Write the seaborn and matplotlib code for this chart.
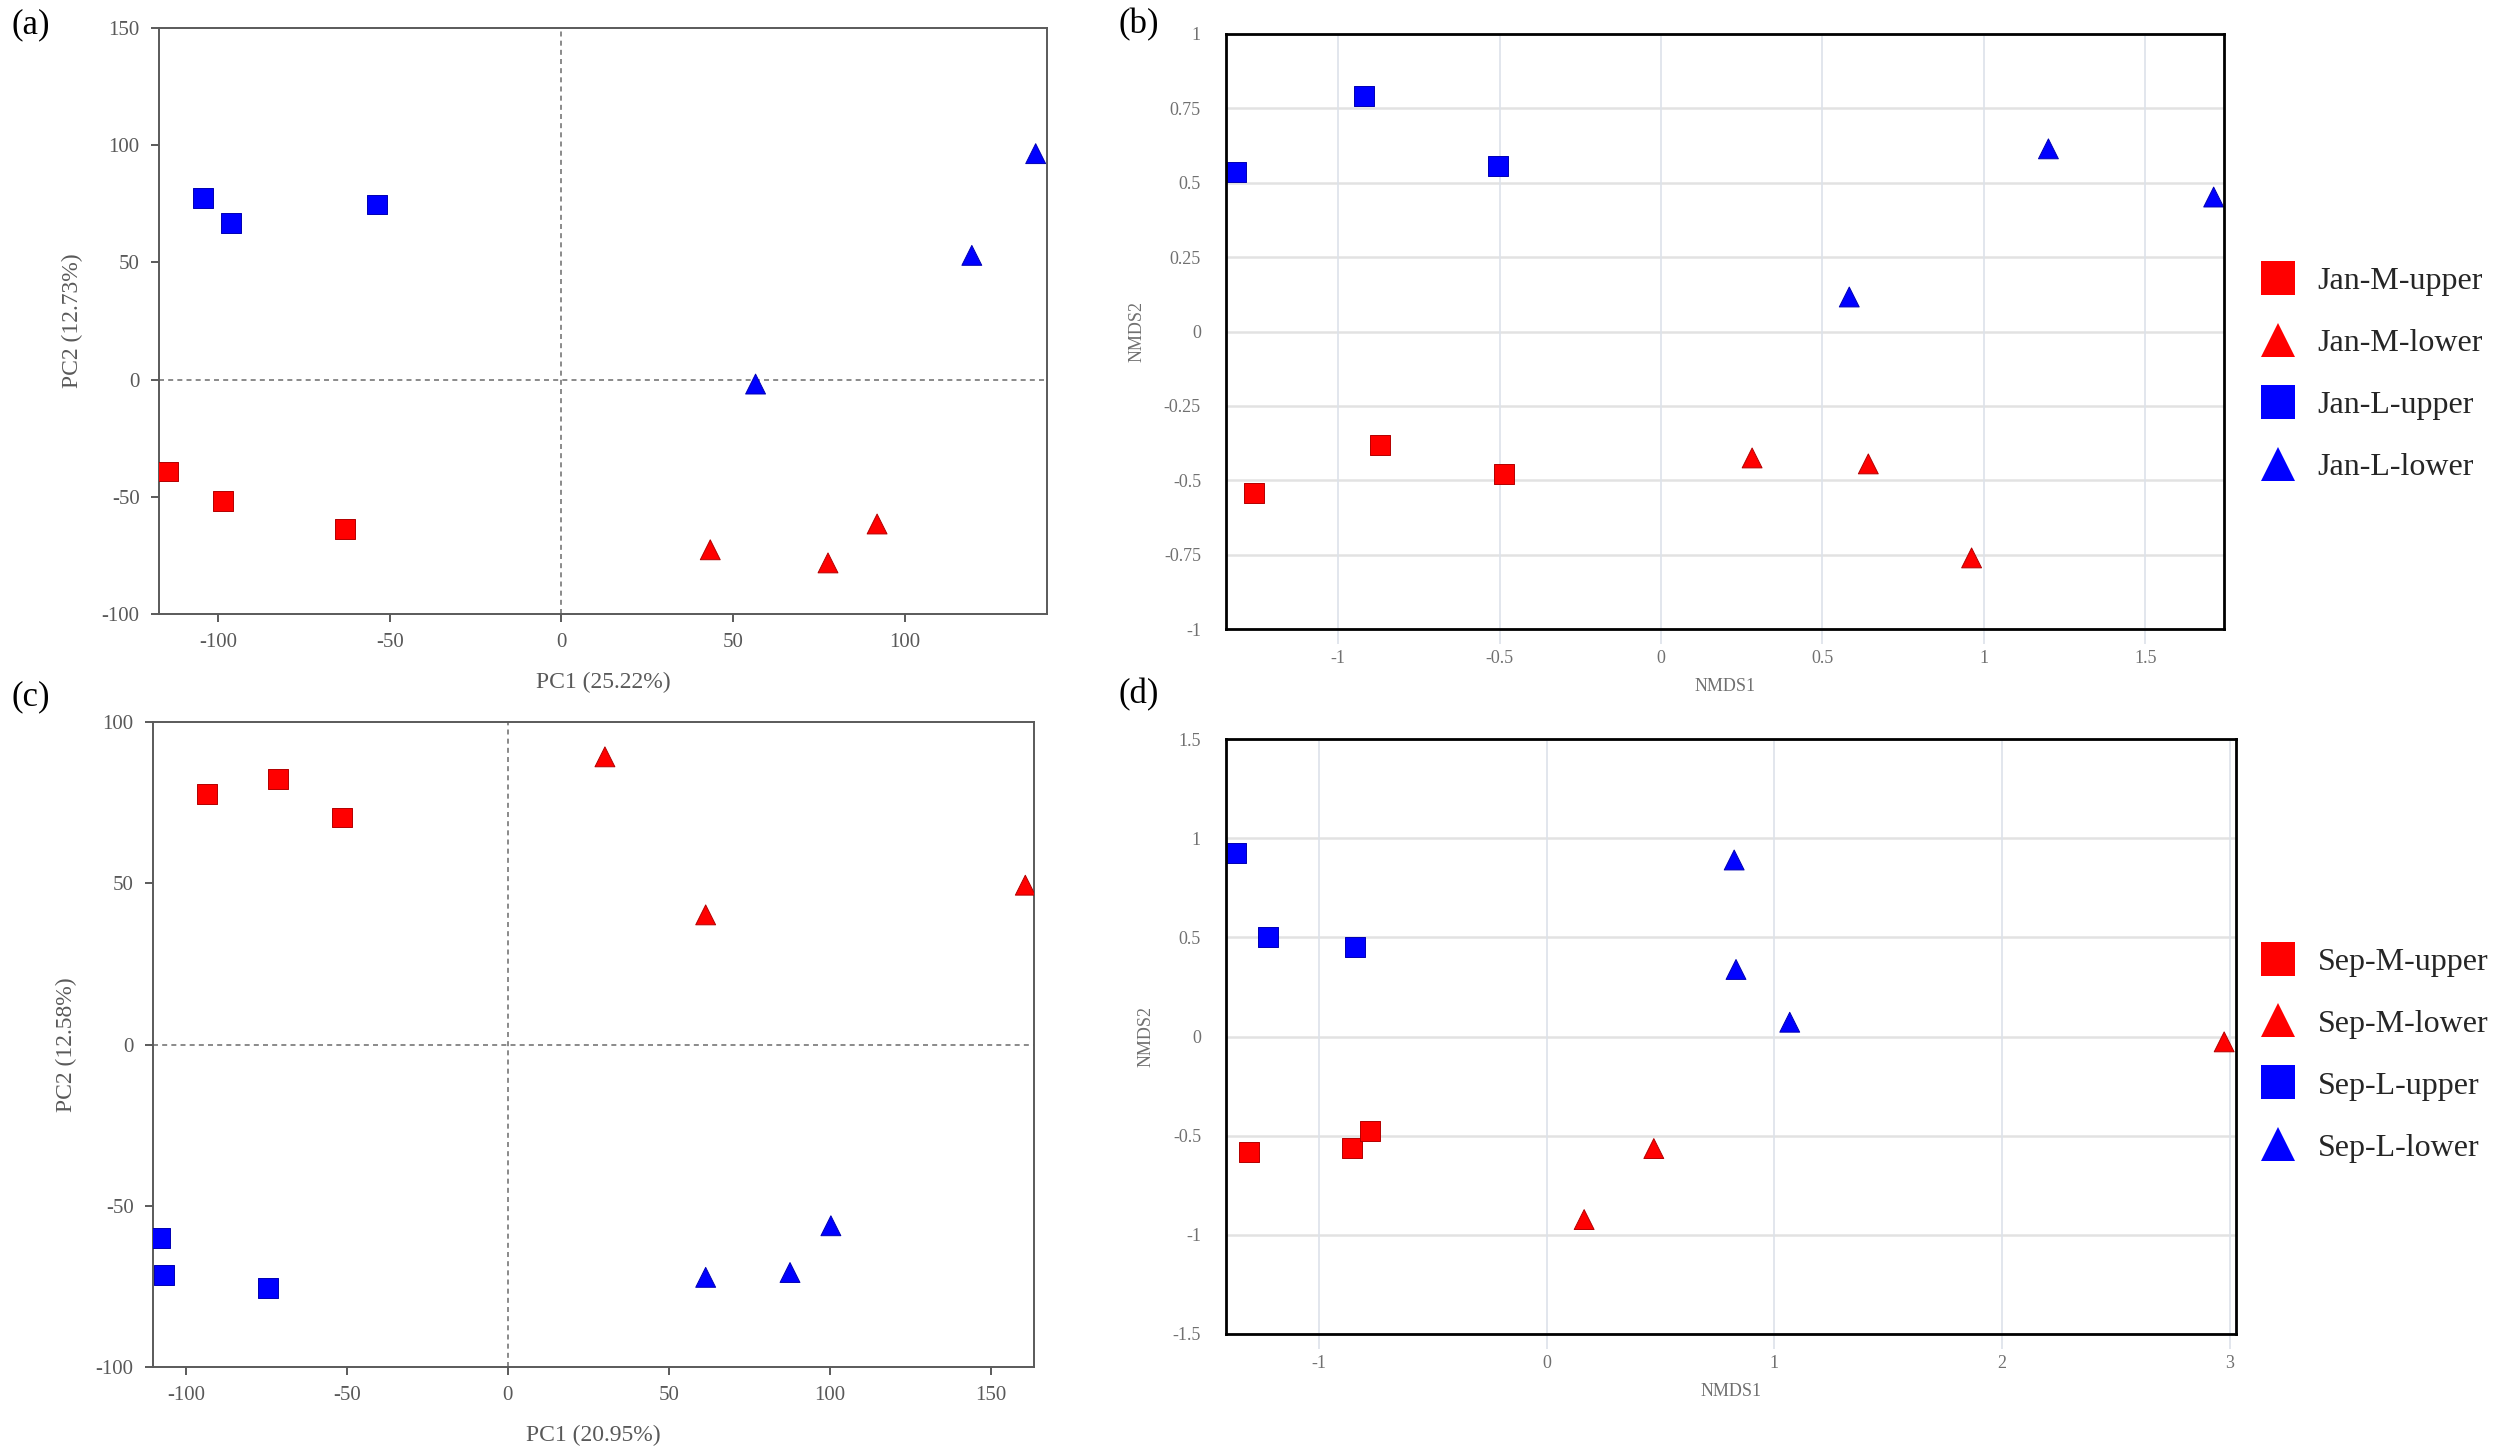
import numpy as np
import pandas as pd
import matplotlib
matplotlib.use("Agg")
import matplotlib.pyplot as plt
from matplotlib.lines import Line2D
import seaborn as sns

# ---------------- data ----------------
jan_groups = ["Jan-M-upper", "Jan-M-lower", "Jan-L-upper", "Jan-L-lower"]
sep_groups = ["Sep-M-upper", "Sep-M-lower", "Sep-L-upper", "Sep-L-lower"]

# (a) PCA January
a_mu_x = [-114.7, -98.6, -63.0]
a_mu_y = [-39.2, -51.9, -63.7]
a_ml_x = [43.4, 77.7, 92.0]
a_ml_y = [-72.6, -78.2, -61.6]
a_lu_x = [-104.3, -96.1, -53.6]
a_lu_y = [77.4, 66.9, 74.7]
a_ll_x = [56.6, 119.6, 138.2]
a_ll_y = [-1.9, 53.0, 96.4]

# (b) NMDS January
b_mu_x = [-1.261, -0.871, -0.487]
b_mu_y = [-0.544, -0.382, -0.480]
b_ml_x = [0.282, 0.642, 0.962]
b_ml_y = [-0.425, -0.445, -0.761]
b_lu_x = [-1.316, -0.921, -0.506]
b_lu_y = [0.535, 0.793, 0.555]
b_ll_x = [0.583, 1.200, 1.712]
b_ll_y = [0.116, 0.614, 0.452]

# (c) PCA September
c_mu_x = [-93.4, -71.5, -51.4]
c_mu_y = [77.6, 82.3, 70.4]
c_ml_x = [30.2, 61.5, 160.8]
c_ml_y = [89.2, 40.2, 49.4]
c_lu_x = [-108.0, -106.7, -74.4]
c_lu_y = [-60.1, -71.5, -75.6]
c_ll_x = [61.5, 87.7, 100.4]
c_ll_y = [-72.2, -70.7, -56.2]

# (d) NMDS September
d_mu_x = [-1.307, -0.856, -0.777]
d_mu_y = [-0.582, -0.560, -0.478]
d_ml_x = [0.165, 0.471, 2.976]
d_ml_y = [-0.923, -0.565, -0.027]
d_lu_x = [-1.366, -1.225, -0.840]
d_lu_y = [0.923, 0.500, 0.450]
d_ll_x = [0.824, 0.832, 1.068]
d_ll_y = [0.890, 0.338, 0.072]

a_xticks = [-100, -50, 0, 50, 100]
a_yticks = [-100, -50, 0, 50, 100, 150]
c_xticks = [-100, -50, 0, 50, 100, 150]
c_yticks = [-100, -50, 0, 50, 100]
b_xticks = [-1, -0.5, 0, 0.5, 1, 1.5]
b_xlabels = ["-1", "-0.5", "0", "0.5", "1", "1.5"]
b_yticks = [-1, -0.75, -0.5, -0.25, 0, 0.25, 0.5, 0.75, 1]
b_ylabels = ["-1", "-0.75", "-0.5", "-0.25", "0", "0.25", "0.5", "0.75", "1"]
d_xticks = [-1, 0, 1, 2, 3]
d_xlabels = ["-1", "0", "1", "2", "3"]
d_yticks = [-1.5, -1, -0.5, 0, 0.5, 1, 1.5]
d_ylabels = ["-1.5", "-1", "-0.5", "0", "0.5", "1", "1.5"]

# ---------------- style ----------------
sns.set_theme(style="white")
plt.rcParams["font.family"] = ["Liberation Serif", "DejaVu Serif"]

RED = "#ff0000"
BLUE = "#0000ff"
colors = [RED, RED, BLUE, BLUE]
shapes = ["s", "^", "s", "^"]


def make_df(groups, xs, ys):
    rows = []
    for g, xv, yv in zip(groups, xs, ys):
        for a, b in zip(xv, yv):
            rows.append({"x": a, "y": b, "group": g})
    return pd.DataFrame(rows)


def draw_points(ax, groups, xs, ys):
    df = make_df(groups, xs, ys)
    pal = dict(zip(groups, colors))
    mk = dict(zip(groups, shapes))
    sns.scatterplot(data=df, x="x", y="y", hue="group", style="group",
                    palette=pal, markers=mk, hue_order=groups, style_order=groups,
                    s=205, linewidth=0.7, legend=False, ax=ax, zorder=3)
    for coll in ax.collections:
        fc = coll.get_facecolors()
        if len(fc):
            ec = [tuple(np.array(c[:3]) * 0.7) + (1,) for c in fc]
            coll.set_edgecolor(ec)


fig = plt.figure(figsize=(25, 14.53), dpi=100)

GREY_AX = "#5a5a5a"
GREY_TXT = "#595959"


def pca_style(ax, xlim, ylim, xticks, yticks, xlabel, ylabel):
    ax.set_xlim(*xlim)
    ax.set_ylim(*ylim)
    ax.set_xticks(xticks)
    ax.set_yticks(yticks)
    ax.set_xticklabels([str(t) for t in xticks])
    ax.set_yticklabels([str(t) for t in yticks])
    for sp in ax.spines.values():
        sp.set_color(GREY_AX)
        sp.set_linewidth(1.4)
        sp.set_visible(True)
    ax.tick_params(axis="both", which="major", direction="out", length=6,
                   width=1.4, color=GREY_AX, labelcolor=GREY_TXT, labelsize=15,
                   pad=8, left=True, bottom=True, top=False, right=False)
    ax.axhline(0, color="#777777", lw=1.2, ls=(0, (3, 2.5)), zorder=1)
    ax.axvline(0, color="#777777", lw=1.2, ls=(0, (3, 2.5)), zorder=1)
    ax.set_xlabel(xlabel, fontsize=17, color=GREY_TXT, labelpad=14)
    ax.set_ylabel(ylabel, fontsize=17, color=GREY_TXT, labelpad=13)
    ax.grid(False)


def nmds_style(ax, xlim, ylim, xticks, xlabels, yticks, ylabels, groups,
               leg_anchor):
    ax.set_xlim(*xlim)
    ax.set_ylim(*ylim)
    ax.set_xticks(xticks)
    ax.set_xticklabels(xlabels)
    ax.set_yticks(yticks)
    ax.set_yticklabels(ylabels)
    for sp in ax.spines.values():
        sp.set_color("#000000")
        sp.set_linewidth(2.0)
        sp.set_visible(True)
        sp.set_zorder(4)
    for t in yticks:
        ax.axhline(t, color="#e2e2e2", lw=1.8, zorder=0)
    for t in xticks:
        ax.axvline(t, color="#dde2ea", lw=1.2, zorder=0)
    ax.tick_params(axis="x", direction="out", length=11, width=1.2,
                   color="#dde2ea", labelcolor="#707070", labelsize=13, pad=4,
                   bottom=True)
    ax.tick_params(axis="y", length=0, labelcolor="#707070", labelsize=13,
                   pad=18, left=True)
    ax.set_xlabel("NMDS1", fontsize=13, color="#707070", labelpad=8)
    ax.set_ylabel("NMDS2", fontsize=13, color="#707070", labelpad=13)
    ax.grid(False)
    handles = [Line2D([], [], ls="none", marker=m, color=c, markersize=24,
                      markeredgewidth=0)
               for m, c in zip(shapes, colors)]
    ax.legend(handles, groups, loc="center left", bbox_to_anchor=leg_anchor,
              frameon=False, fontsize=23, labelspacing=1.02, handletextpad=0.6,
              borderaxespad=0, handlelength=1.3)


W, H = 2500.0, 1453.0


def rect(l, r, t, b):
    return [l / W, 1 - b / H, (r - l) / W, (b - t) / H]


ax_a = fig.add_axes(rect(159, 1047, 28, 614))
ax_b = fig.add_axes(rect(1226, 2224, 34, 629))
ax_c = fig.add_axes(rect(153, 1034, 722, 1367))
ax_d = fig.add_axes(rect(1226, 2236, 739, 1334))

draw_points(ax_a, jan_groups, [a_mu_x, a_ml_x, a_lu_x, a_ll_x],
            [a_mu_y, a_ml_y, a_lu_y, a_ll_y])
pca_style(ax_a, (-117.2, 141.5), (-100, 150), a_xticks, a_yticks,
          "PC1 (25.22%)", "PC2 (12.73%)")

draw_points(ax_b, jan_groups, [b_mu_x, b_ml_x, b_lu_x, b_ll_x],
            [b_mu_y, b_ml_y, b_lu_y, b_ll_y])
nmds_style(ax_b, (-1.348, 1.744), (-1, 1), b_xticks, b_xlabels,
           b_yticks, b_ylabels, jan_groups, (1.02, 0.428))

draw_points(ax_c, sep_groups, [c_mu_x, c_ml_x, c_lu_x, c_ll_x],
            [c_mu_y, c_ml_y, c_lu_y, c_ll_y])
pca_style(ax_c, (-110.2, 163.5), (-100, 100), c_xticks, c_yticks,
          "PC1 (20.95%)", "PC2 (12.58%)")

draw_points(ax_d, sep_groups, [d_mu_x, d_ml_x, d_lu_x, d_ll_x],
            [d_mu_y, d_ml_y, d_lu_y, d_ll_y])
nmds_style(ax_d, (-1.408, 3.028), (-1.5, 1.5), d_xticks, d_xlabels,
           d_yticks, d_ylabels, sep_groups, (1.008, 0.469))

for lab, (px, py) in zip(["(a)", "(b)", "(c)", "(d)"],
                         [(12, 8), (1118, 8), (12, 680), (1118, 678)]):
    fig.text(px / W, 1 - py / H, lab, fontsize=25, color="black",
             ha="left", va="top")

fig.savefig("out.png", dpi=100, facecolor="white")
